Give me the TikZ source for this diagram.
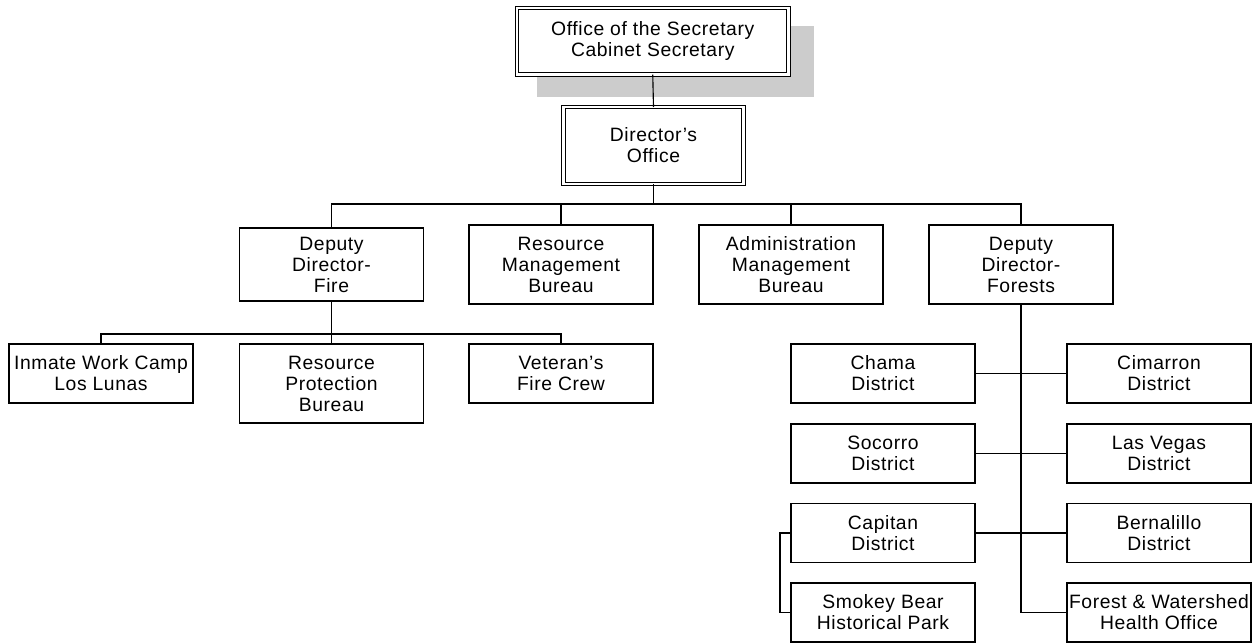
\documentclass[tikz,border=0pt]{standalone}
\usepackage{fontspec}
\setmainfont{Liberation Sans}[LetterSpace=3]
\begin{document}
\begin{tikzpicture}[x=0.75pt,y=-0.75pt,
  every node/.style={inner sep=0pt,outer sep=0pt,align=center,font=\fontsize{14.5}{15.75}\selectfont},
  box/.style={draw=black,fill=white,line width=0.85pt,rectangle,minimum width=138pt,minimum height=44.25pt},
  tall/.style={box,minimum height=59.25pt},
  dbox/.style={draw=black,fill=white,line width=0.9pt,double=white,double distance=1.9pt,rectangle},
  conn/.style={draw=black,line width=0.85pt},
  thick conn/.style={draw=black,line width=1.3pt}]
\useasboundingbox (0,0) rectangle (1257,643);
% shadow
\fill[black!20] (537,26) rectangle (814,97);
% top levels
\node[dbox,minimum width=203.6pt,minimum height=49.9pt] (sec) at (652.75,41.25) {Office of the Secretary\\Cabinet Secretary};
\node[dbox,minimum width=135pt,minimum height=57.75pt] (dir) at (653.5,145.5) {Director’s\\Office};
% level 2
\node[tall,minimum height=54.75pt] (df) at (331.5,264.5) {Deputy\\Director-\\Fire};
\node[tall] (rm) at (561,264.5) {Resource\\Management\\Bureau};
\node[tall] (am) at (791,264.5) {Administration\\Management\\Bureau};
\node[tall] (dfo) at (1021,264.5) {Deputy\\Director-\\Forests};
% level 3 left
\node[box] (inm) at (101,373.5) {Inmate Work Camp\\Los Lunas};
\node[tall] (rp) at (331.5,383.5) {Resource\\Protection\\Bureau};
\node[box] (vet) at (561,373.5) {Veteran’s\\Fire Crew};
% forests
\node[box] (cha) at (883,373.5) {Chama\\District};
\node[box] (cim) at (1159,373.5) {Cimarron\\District};
\node[box] (soc) at (883,453.5) {Socorro\\District};
\node[box] (lv) at (1159,453.5) {Las Vegas\\District};
\node[box] (cap) at (883,533) {Capitan\\District};
\node[box] (ber) at (1159,533) {Bernalillo\\District};
\node[box] (smk) at (883,612.5) {Smokey Bear\\Historical Park};
\node[box] (fw) at (1159,612.5) {Forest \& Watershed\\Health Office};
% connectors
\coordinate (bus) at (653.5,204);
\coordinate (lbus) at (331.5,334);
\coordinate (brk) at (780,533);
\draw[conn] (sec.south) -- (dir.north);
\draw[thick conn] (dir.south) -- (bus);
\draw[conn] (df.north) |- (bus) -| (dfo.north);
\draw[conn] (rm.north) -- (rm.north |- bus);
\draw[conn] (am.north) -- (am.north |- bus);
\draw[thick conn] (df.south) -- (lbus);
\draw[conn] (lbus) -- (rp.north);
\draw[conn] (inm.north) |- (lbus) -| (vet.north);
\draw[conn] (dfo.south) |- (fw.west);
\draw[conn] (cha.east) -- (cim.west);
\draw[conn] (soc.east) -- (lv.west);
\draw[conn] (cap.east) -- (ber.west);
\draw[conn] (cap.west) -- (brk) |- (smk.west);
\end{tikzpicture}
\end{document}
